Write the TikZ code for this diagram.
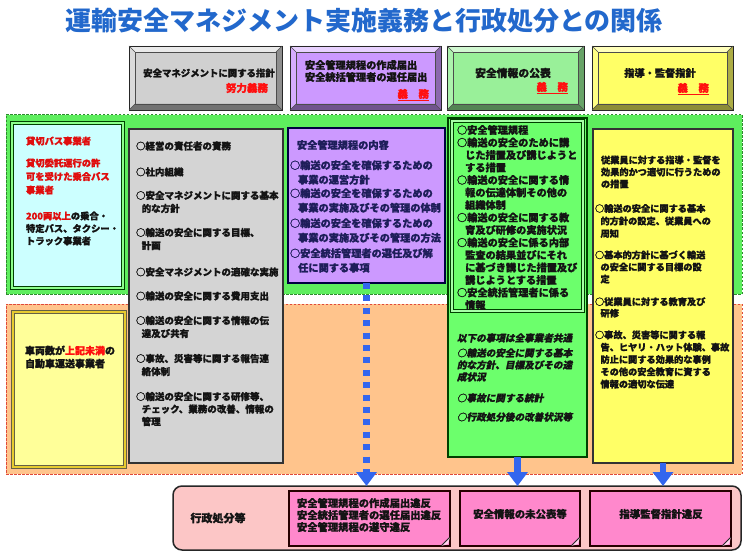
\documentclass[tikz,border=0pt]{standalone}
\usepackage{fontspec}
\setmainfont{Noto Sans CJK JP}[BoldFeatures={FakeBold=1.2}]
\newfontfamily\jpit{Noto Sans CJK JP}[FakeSlant=0.2, BoldFeatures={FakeBold=1.2, FakeSlant=0.2}]
\newfontfamily\titlefont{Noto Sans CJK JP}
\usetikzlibrary{arrows.meta,calc}
\definecolor{titleblue}{HTML}{2268CC}
\definecolor{greyhd}{HTML}{D0D0D0}
\definecolor{purplehd}{HTML}{CC99FF}
\definecolor{greenhd}{HTML}{99F099}
\definecolor{yellowhd}{HTML}{FFFF66}
\definecolor{greenarea}{HTML}{5EEE5E}
\definecolor{greenborder}{HTML}{2E8B2E}
\definecolor{orangearea}{HTML}{FFC48C}
\definecolor{orangeborder}{HTML}{E04A3A}
\definecolor{cyanbox}{HTML}{CCFFFF}
\definecolor{greybox}{HTML}{D4D4D4}
\definecolor{purplebox}{HTML}{CC99FF}
\definecolor{greenbox}{HTML}{6CFF6C}
\definecolor{yellowbox}{HTML}{FFFF66}
\definecolor{ylbox}{HTML}{FFFF99}
\definecolor{pinkarea}{HTML}{FCC6C6}
\definecolor{pinkbox}{HTML}{FF88CC}
\definecolor{arrowblue}{HTML}{3366EE}
\definecolor{navytext}{HTML}{1E1E5A}
\definecolor{redtext}{HTML}{FF1010}
\definecolor{darktext}{HTML}{141414}
\newcommand{\setfs}[2]{\fontsize{#1}{#2}\selectfont}
\newcommand{\bevelbox}[5]{%
  \fill[#5] (#1,#2) rectangle (#3,#4);
  \fill[#5!45!white] (#1,#2) -- (#3,#2) -- ({#3-6},{#2+6}) -- ({#1+6},{#2+6}) -- cycle;
  \fill[#5!80!white] (#1,#2) -- ({#1+6},{#2+6}) -- ({#1+6},{#4-6}) -- (#1,#4) -- cycle;
  \fill[#5!55!black] (#1,#4) -- ({#1+6},{#4-6}) -- ({#3-6},{#4-6}) -- (#3,#4) -- cycle;
  \fill[#5!68!black] (#3,#2) -- ({#3-6},{#2+6}) -- ({#3-6},{#4-6}) -- (#3,#4) -- cycle;
  \draw[black!85, line width=0.9pt] (#1,#2) rectangle (#3,#4);
  \draw[black!70, line width=0.5pt] ({#1+6},{#2+6}) rectangle ({#3-6},{#4-6});
  \draw[black!70, line width=0.5pt] (#1,#2) -- ({#1+6},{#2+6}) (#3,#2) -- ({#3-6},{#2+6})
     (#1,#4) -- ({#1+6},{#4-6}) (#3,#4) -- ({#3-6},{#4-6});
}
\tikzset{
  region/.style={inner sep=0pt, outer sep=0pt, line width=1pt, dash pattern=on 2.5pt off 1.5pt},
  panel/.style={inner sep=0pt, outer sep=0pt, draw=black!80, line width=1.2pt},
  dblpanel/.style={inner sep=0pt, outer sep=0pt, line width=1pt, double distance=1.6pt},
  lbl/.style={inner sep=0pt, outer sep=0pt, align=left, anchor=west, text=darktext, font=\bfseries},
  hdtxt/.style={inner sep=0pt, outer sep=0pt, align=left, text=darktext, font=\bfseries},
  redlbl/.style={inner sep=0pt, outer sep=0pt, anchor=east, text=redtext, font=\bfseries\setfs{10.5}{12}},
  pinkpanel/.style={inner sep=0pt, outer sep=0pt, fill=pinkbox, draw=black!85!red, line width=1.8pt},
  blockarrow/.style={draw=arrowblue, line width=6.5pt, -{Triangle[width=20pt,length=14pt]}},
  dotarrow/.style={draw=arrowblue, line width=6.5pt, dash pattern=on 6pt off 6.4pt, -{Triangle[width=20pt,length=14pt]}},
}
\newcommand{\foldcorner}[1]{%
  \fill[pinkbox!35!white] ($(#1.south east)+(-9,0)$) -- ($(#1.south east)+(0,-9)$) -- ($(#1.south east)+(-2,-2)$) -- cycle;
  \draw[black!85, line width=1pt] ($(#1.south east)+(-9,0)$) -- ($(#1.south east)+(0,-9)$);
}
\begin{document}
\begin{tikzpicture}[x=1pt,y=-1pt]
\useasboundingbox[fill=white] (0,0) rectangle (749,556);

% title
\node[inner sep=0pt, text=titleblue, font=\titlefont\bfseries\setfs{26}{30}] (title) at (364,21) {運輸安全マネジメント実施義務と行政処分との関係};

% header bevel boxes
\bevelbox{129}{46}{282}{110}{greyhd}
\bevelbox{290}{46}{441}{110}{purplehd}
\bevelbox{447}{46}{584}{110}{greenhd}
\bevelbox{592}{46}{733}{110}{yellowhd}
\node[hdtxt, font=\bfseries\setfs{9.4}{12}] (h1) at (209,73) {安全マネジメントに関する指針};
\node[redlbl] (h1r) at (268,88) {努力義務};
\node[hdtxt, anchor=west, font=\bfseries\setfs{10.2}{12}] (h2) at (305,71) {安全管理規程の作成届出\\安全統括管理者の選任届出};
\node[redlbl] (h2r) at (429,95) {\underline{義　務}};
\node[hdtxt, font=\bfseries\setfs{10.8}{12}] (h3) at (513,73) {安全情報の公表};
\node[redlbl] (h3r) at (568,88) {\underline{義　務}};
\node[hdtxt, font=\bfseries\setfs{10.2}{12}] (h4) at (660,73) {指導・監督指針};
\node[redlbl] (h4r) at (709,89) {\underline{義　務}};

% background regions
\node[region, fill=greenarea, draw=greenborder, minimum width=736pt, minimum height=179pt] (garea) at (374,204.5) {};
\node[region, fill=orangearea, draw=orangeborder, minimum width=736pt, minimum height=170pt] (oarea) at (374,389) {};

% left boxes
\node[dblpanel, fill=cyanbox, draw=black!75!green, double=green!45, minimum width=111pt, minimum height=165pt] (cbox) at (67.5,205.5) {};
\node[dblpanel, fill=ylbox, draw=black!70!yellow, double=yellow!60!brown, minimum width=112pt, minimum height=155pt] (lybox) at (69,389.5) {};

% content panels
\node[panel, fill=greybox, minimum width=154pt, minimum height=334pt] (gybox) at (206,296) {};
\node[panel, fill=purplebox, draw=black!75!blue, minimum width=157pt, minimum height=155pt] (pbox) at (366.5,205.5) {};
\node[panel, fill=greenbox, draw=black!75!green, minimum width=139pt, minimum height=339pt] (gbox) at (517.5,287.5) {};
\node[dblpanel, draw=black!75!green, double=greenbox!60!white, minimum width=131pt, minimum height=190pt] (gibox) at (517.5,216) {};
\node[panel, fill=yellowbox, draw=black!80, minimum width=140pt, minimum height=334pt] (ybox) at (663,296) {};

% cyan box text
\node[lbl, text=redtext!88!black, font=\bfseries\setfs{9.3}{13.5}] (c1) at (26,141) {貸切バス事業者};
\node[lbl, text=redtext!88!black, font=\bfseries\setfs{9.3}{13.5}] (c2) at (26,176.5) {貸切委託運行の許\\可を受けた乗合バス\\事業者};
\node[lbl, font=\bfseries\setfs{9.3}{12.5}] (c3) at (26,228.5) {\textcolor{redtext!88!black}{200両以上}の乗合・\\特定バス、タクシー・\\トラック事業者};

% left yellow text
\node[lbl, font=\bfseries\setfs{10}{13}] (ly1) at (25,357) {車両数が\textcolor{redtext}{上記未満}の\\自動車運送事業者};

% grey column text
\node[lbl, font=\bfseries\setfs{9.5}{13}] (g1) at (136,146) {○経営の責任者の責務};
\node[lbl, font=\bfseries\setfs{9.5}{13}] (g2) at (136,172) {○社内組織};
\node[lbl, font=\bfseries\setfs{9.5}{13}] (g3) at (136,202) {○安全マネジメントに関する基本\\\hspace*{0.6em}的な方針};
\node[lbl, font=\bfseries\setfs{9.5}{13}] (g4) at (136,239) {○輸送の安全に関する目標、\\\hspace*{0.6em}計画};
\node[lbl, font=\bfseries\setfs{9.5}{13}] (g5) at (136,272) {○安全マネジメントの適確な実施};
\node[lbl, font=\bfseries\setfs{9.5}{13}] (g6) at (136,296) {○輸送の安全に関する費用支出};
\node[lbl, font=\bfseries\setfs{9.5}{13}] (g7) at (136,327) {○輸送の安全に関する情報の伝\\\hspace*{0.6em}達及び共有};
\node[lbl, font=\bfseries\setfs{9.5}{13}] (g8) at (136,365) {○事故、災害等に関する報告連\\\hspace*{0.6em}絡体制};
\node[lbl, font=\bfseries\setfs{9.5}{12.5}] (g9) at (136,409) {○輸送の安全に関する研修等、\\\hspace*{0.6em}チェック、業務の改善、情報の\\\hspace*{0.6em}管理};

% purple panel text
\node[lbl, text=navytext, font=\bfseries\setfs{10.2}{14.5}] (p0) at (297,145) {安全管理規程の内容};
\node[lbl, text=navytext, font=\bfseries\setfs{10.2}{14.5}] (p1) at (290,172.5) {○輸送の安全を確保するための\\\hspace*{0.8em}事業の運営方針};
\node[lbl, text=navytext, font=\bfseries\setfs{10.2}{14.5}] (p2) at (290,200.5) {○輸送の安全を確保するための\\\hspace*{0.8em}事業の実施及びその管理の体制};
\node[lbl, text=navytext, font=\bfseries\setfs{10.2}{14.5}] (p3) at (290,230.5) {○輸送の安全を確保するための\\\hspace*{0.8em}事業の実施及びその管理の方法};
\node[lbl, text=navytext, font=\bfseries\setfs{10.2}{14.5}] (p4) at (290,260.5) {○安全統括管理者の選任及び解\\\hspace*{0.8em}任に関する事項};

% green panel text
\node[lbl, font=\bfseries\setfs{10.2}{12.5}] (q1) at (457,217.5) {○安全管理規程\\○輸送の安全のために講\\\hspace*{0.8em}じた措置及び講じようと\\\hspace*{0.8em}する措置\\○輸送の安全に関する情\\\hspace*{0.8em}報の伝達体制その他の\\\hspace*{0.8em}組織体制\\○輸送の安全に関する教\\\hspace*{0.8em}育及び研修の実施状況\\○輸送の安全に係る内部\\\hspace*{0.8em}監査の結果並びにそれ\\\hspace*{0.8em}に基づき講じた措置及び\\\hspace*{0.8em}講じようとする措置\\○安全統括管理者に係る\\\hspace*{0.8em}情報};
\node[lbl, font=\jpit\bfseries\setfs{9.6}{12}] (r0) at (457,338) {以下の事項は全事業者共通};
\node[lbl, font=\jpit\bfseries\setfs{9.6}{12}] (r1) at (457,365) {○輸送の安全に関する基本\\的な方針、目標及びその達\\成状況};
\node[lbl, font=\jpit\bfseries\setfs{9.6}{12}] (r2) at (457,398) {○事故に関する統計};
\node[lbl, font=\jpit\bfseries\setfs{9.6}{12}] (r3) at (457,417) {○行政処分後の改善状況等};

% yellow panel text
\node[lbl, font=\bfseries\setfs{9.2}{12}] (y0) at (601,172) {従業員に対する指導・監督を\\効果的かつ適切に行うための\\の措置};
\node[lbl, font=\bfseries\setfs{9.2}{12.5}] (y1) at (595,221) {○輸送の安全に関する基本\\\hspace*{0.6em}的方針の設定、従業員への\\\hspace*{0.6em}周知};
\node[lbl, font=\bfseries\setfs{9.2}{12}] (y2) at (595,267) {○基本的方針に基づく輸送\\\hspace*{0.6em}の安全に関する目標の設\\\hspace*{0.6em}定};
\node[lbl, font=\bfseries\setfs{9.2}{11.5}] (y3) at (595,307.5) {○従業員に対する教育及び\\\hspace*{0.6em}研修};
\node[lbl, font=\bfseries\setfs{9.2}{12.3}] (y4) at (595,359.5) {○事故、災害等に関する報\\\hspace*{0.6em}告、ヒヤリ・ハット体験、事故\\\hspace*{0.6em}防止に関する効果的な事例\\\hspace*{0.6em}その他の安全教育に資する\\\hspace*{0.6em}情報の適切な伝達};

% bottom area
\node[inner sep=0pt, outer sep=0pt, fill=pinkarea, draw=black!85, line width=1.5pt, rounded corners=9pt, minimum width=568pt, minimum height=64pt] (parea) at (457,518) {};
\node[pinkpanel, minimum width=161pt, minimum height=55pt] (pb1) at (369.5,518.5) {};
\node[pinkpanel, minimum width=120pt, minimum height=55pt] (pb2) at (520,518.5) {};
\node[pinkpanel, minimum width=141pt, minimum height=55pt] (pb3) at (660.5,518.5) {};
\foldcorner{pb1}
\foldcorner{pb2}
\foldcorner{pb3}
\node[hdtxt, font=\bfseries\setfs{11}{13}] (admin) at (218,518) {行政処分等};
\node[lbl, font=\bfseries\setfs{10.3}{12}] (b1) at (297,515) {安全管理規程の作成届出違反\\安全統括管理者の選任届出違反\\安全管理規程の遵守違反};
\node[hdtxt, font=\bfseries\setfs{10.4}{12}] (b2) at (520,514) {安全情報の未公表等};
\node[hdtxt, font=\bfseries\setfs{10.4}{12}] (b3) at (661,514) {指導監督指針違反};

% arrows
\draw[dotarrow] (pbox.south) -- (pbox.south |- parea.north);
\draw[blockarrow] (gbox.south) -- (gbox.south |- parea.north);
\draw[blockarrow] (ybox.south) -- (ybox.south |- parea.north);
\end{tikzpicture}
\end{document}
